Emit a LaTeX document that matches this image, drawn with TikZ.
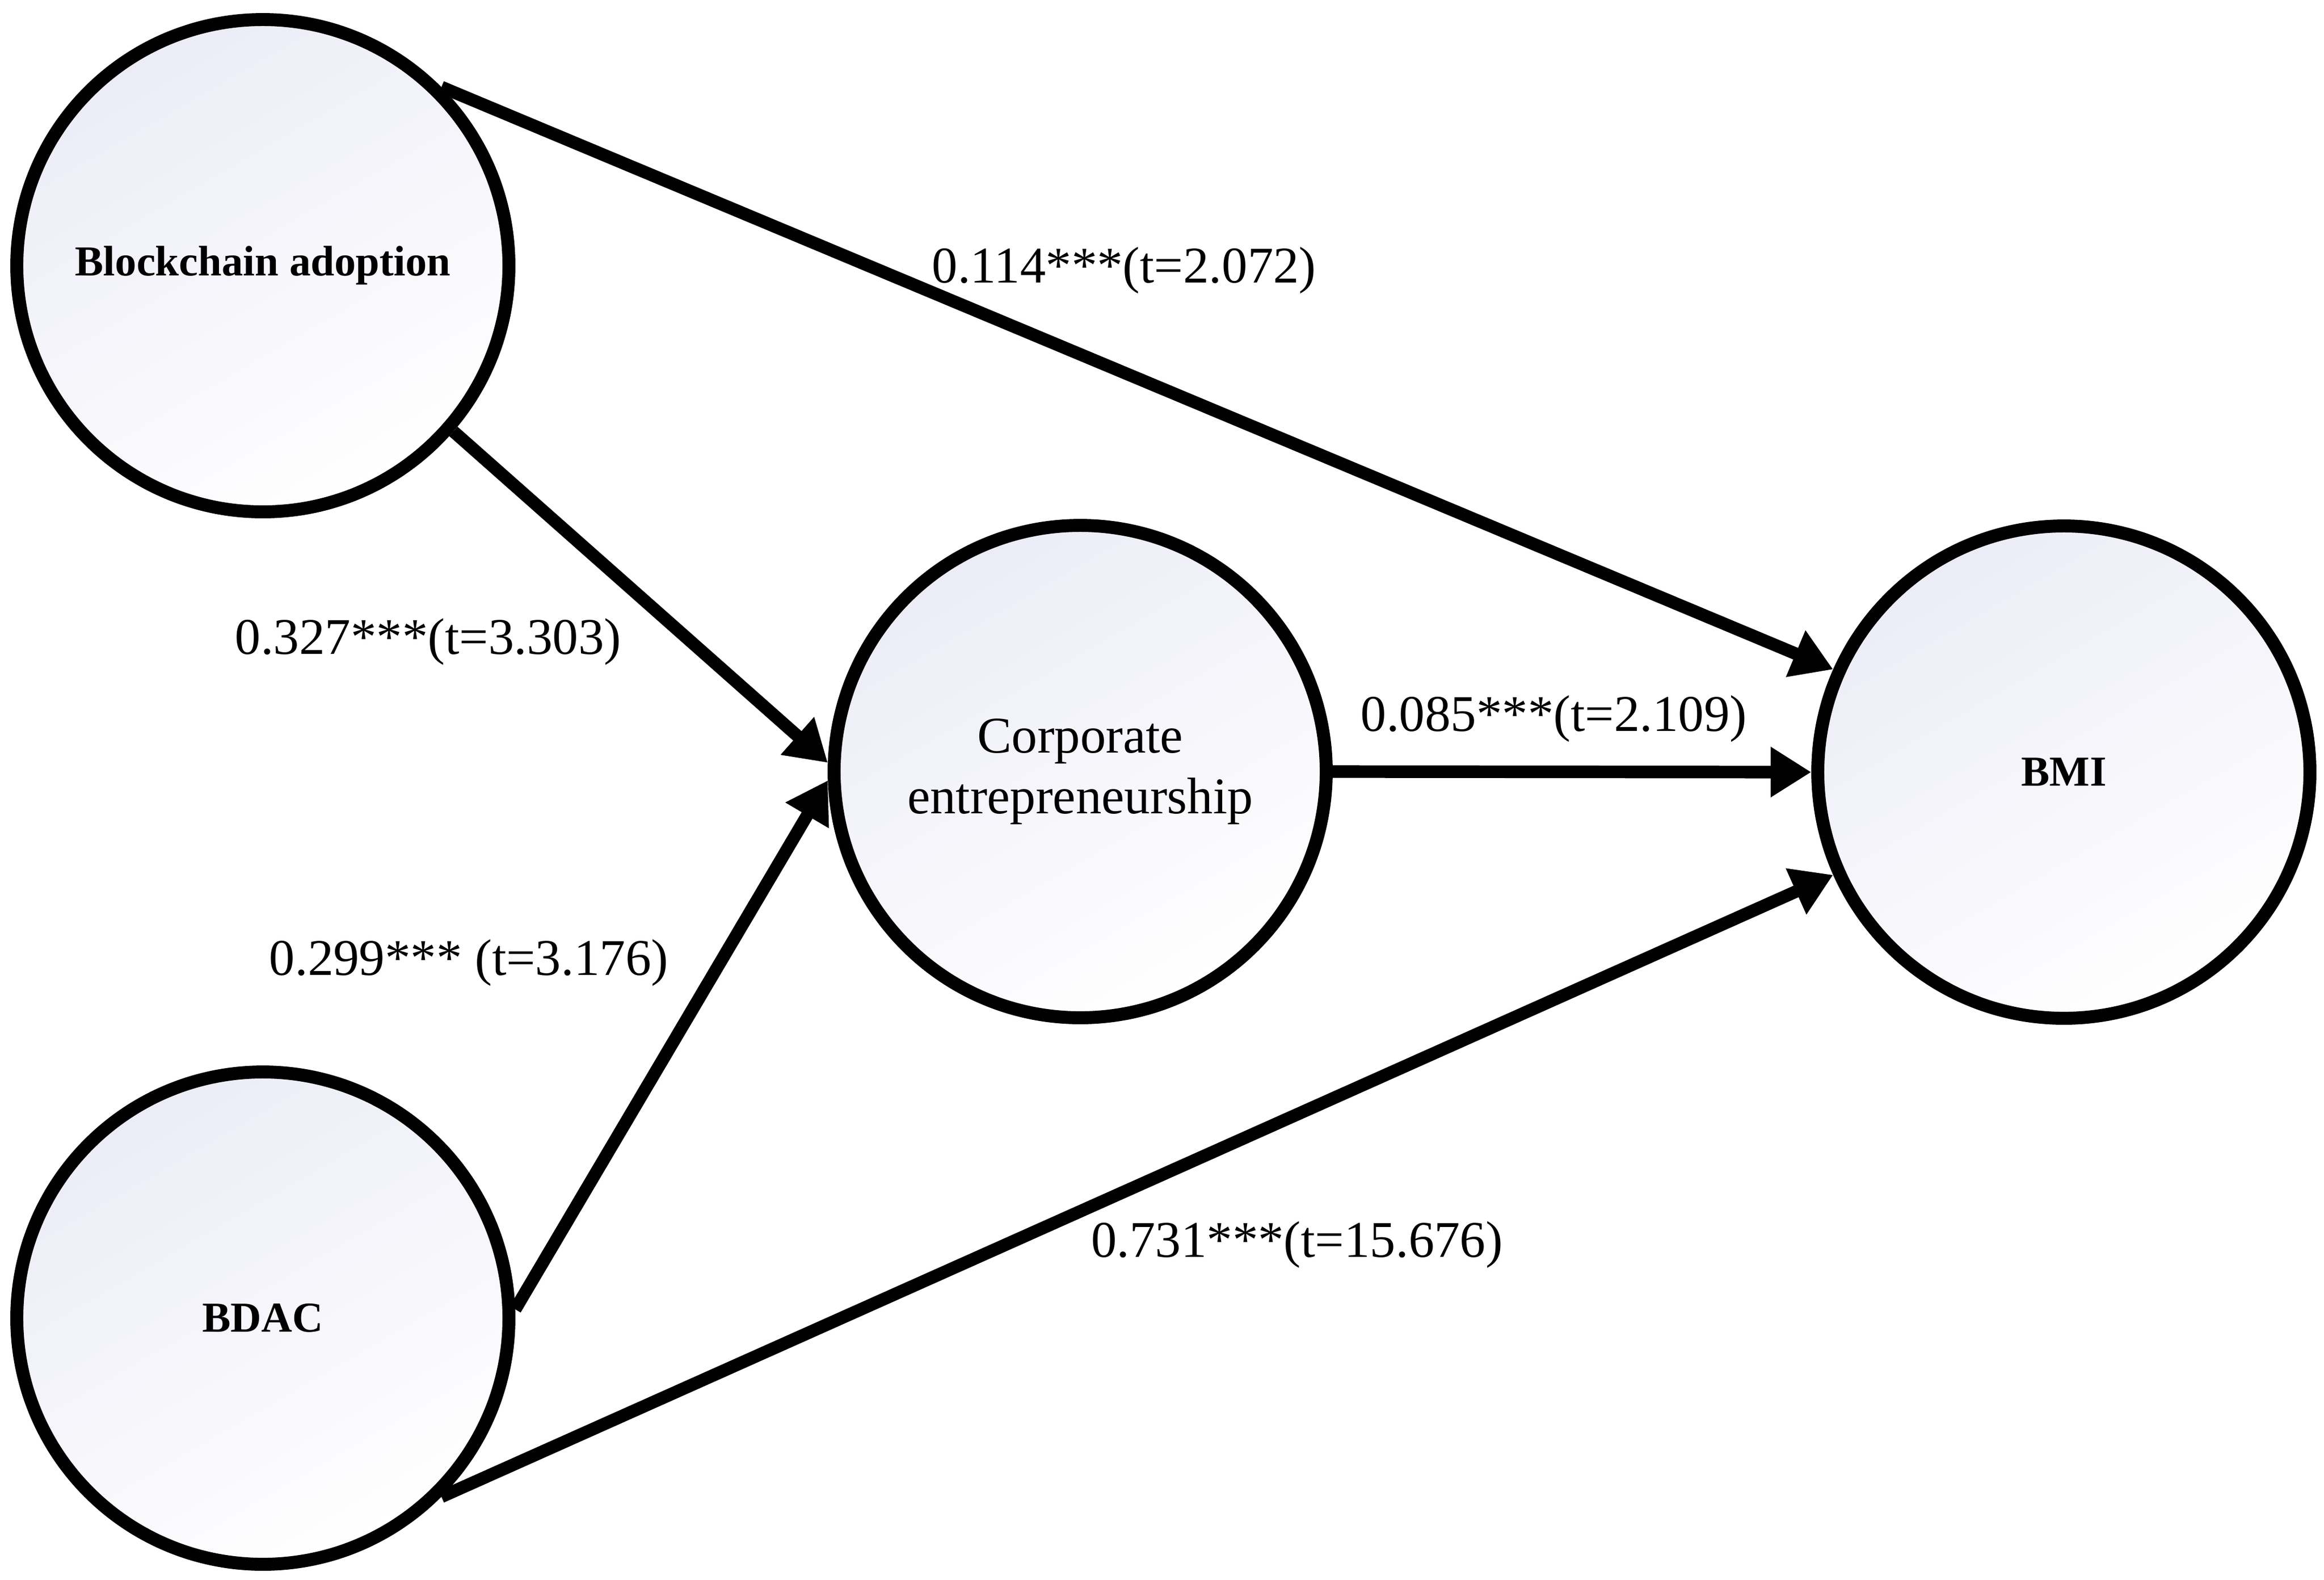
\documentclass[tikz,border=0pt]{standalone}
\usepackage{fontspec}
\setmainfont{Liberation Serif}
\usetikzlibrary{arrows.meta}
\definecolor{circfill}{RGB}{236,236,247}

\begin{document}
\begin{tikzpicture}[
    latent/.style={circle, draw=black, line width=3.4pt, minimum size=4.54cm, inner sep=0pt,
      top color=circfill, bottom color=white, shading angle=30},
    boldname/.style={font=\fontsize{11.2}{13}\selectfont\bfseries},
    effect/.style={line width=3.3pt, -{Triangle[length=0.375cm,width=0.44cm]}},
    coef/.style={anchor=base, font=\fontsize{13.5}{16}\selectfont}
  ]

    \useasboundingbox (0,0) rectangle (21.44,-14.565);



    \node[latent, boldname] (ba) at (2.425,-2.45) {Blockchain adoption};

    \node[latent, boldname] (bdac) at (2.425,-12.155) {BDAC};

    \node[latent, align=center, font=\fontsize{13.5}{15.9}\selectfont] (ce) at (9.965,-7.115) {Corporate\\entrepreneurship};

    \node[latent, boldname] (bmi) at (19.04,-7.12) {BMI};



    \draw[effect] (ba.45) -- (bmi.156);

    \draw[effect] (ba.-41) -- (ce.178);

    \draw[effect] (bdac.2) -- (ce.182);

    \draw[effect] (bdac.-45) -- (bmi.204);

    \draw[effect] (ce.east) -- (bmi.west);



    \node[coef] (c1) at (10.37,-2.605) {0.114***(t=2.072)};

    \node[coef] (c2) at (3.95,-6.03) {0.327***(t=3.303)};

    \node[coef] (c3) at (14.335,-6.74) {0.085***(t=2.109)};

    \node[coef] (c4) at (4.325,-8.99) {0.299*** (t=3.176)};

    \node[coef] (c5) at (11.965,-11.59) {0.731***(t=15.676)};

  \end{tikzpicture}
\end{document}
